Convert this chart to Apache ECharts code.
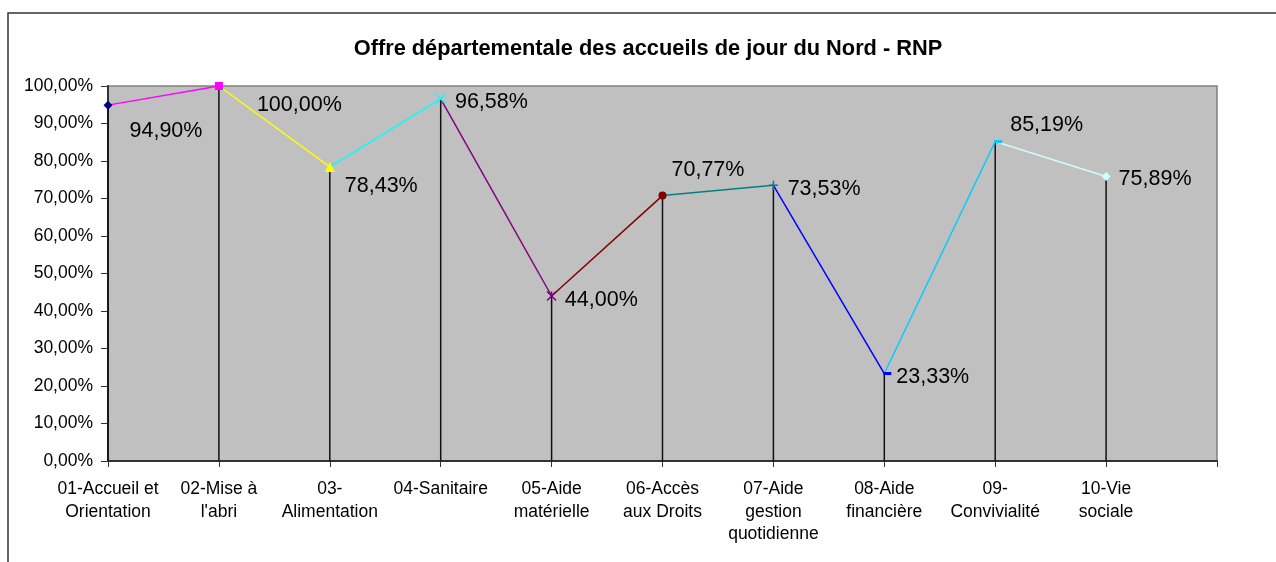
<!DOCTYPE html>
<html>
<head>
<meta charset="utf-8">
<script src="https://cdn.jsdelivr.net/npm/echarts@6/dist/echarts.min.js"></script>
<style>
html,body{margin:0;padding:0;background:#fff;}
#chart{width:1276px;height:562px;}
</style>
</head>
<body>
<div id="chart"></div>
<script>
const title = "Offre départementale des accueils de jour du Nord - RNP";
const categories = ["01-Accueil et\nOrientation", "02-Mise à\nl'abri", "03-\nAlimentation", "04-Sanitaire", "05-Aide\nmatérielle", "06-Accès\naux Droits", "07-Aide\ngestion\nquotidienne", "08-Aide\nfinancière", "09-\nConvivialité", "10-Vie\nsociale", ""];
const values = [94.90, 100.00, 78.43, 96.58, 44.00, 70.77, 73.53, 23.33, 85.19, 75.89];
const pointColors = ["#000080", "#FF00FF", "#FFFF00", "#00FFFF", "#800080", "#800000", "#008080", "#0000FF", "#00CCFF", "#CCFFFF"];
const yTicks = [0, 10, 20, 30, 40, 50, 60, 70, 80, 90, 100];

const fmt = v => v.toFixed(2).replace('.', ',') + '%';

const symbols = [
  {symbol: 'diamond', size: 9},
  {symbol: 'rect', size: 8},
  {symbol: 'triangle', size: 10},
  {symbol: 'path://M0,0L10,10M10,0L0,10', size: 9, stroke: true},
  {symbol: 'path://M0,0L10,10M10,0L0,10M5,0L5,4', size: 9, stroke: true},
  {symbol: 'circle', size: 8},
  {symbol: 'path://M5,0L5,10M0,5L10,5', size: 9, stroke: true},
  {symbol: 'rect', size: [8, 3], offset: [3, 0]},
  {symbol: 'rect', size: [8, 3], offset: [3, 0]},
  {symbol: 'diamond', size: 9}
];
const labelOffsets = [[12, 26], [29, 19], [5, 19], [4, 3], [3, 4], [0, -26], [4, 4], [0, 4], [3, -16], [3, 3]];

const segSeries = [];
for (let i = 1; i < values.length; i++) {
  segSeries.push({
    type: 'line',
    data: values.map((v, j) => (j === i - 1 || j === i) ? v : null),
    showSymbol: false,
    connectNulls: false,
    lineStyle: {color: pointColors[i], width: 1.5},
    z: 3,
    silent: true
  });
}

const markerData = values.map((v, i) => {
  const s = symbols[i];
  const d = {
    value: v,
    symbol: s.symbol,
    symbolSize: s.size,
    itemStyle: s.stroke ? {color: pointColors[i], borderColor: pointColors[i], borderWidth: 1.5} : {color: pointColors[i], borderWidth: 0},
    label: {offset: labelOffsets[i]}
  };
  if (s.offset) d.symbolOffset = s.offset;
  return d;
});

const chart = echarts.init(document.getElementById('chart'), null, {renderer: 'canvas'});
chart.setOption({
  animation: false,
  backgroundColor: '#ffffff',
  textStyle: {fontFamily: 'Liberation Sans, Arial, sans-serif'},
  title: {
    text: title,
    left: 643,
    top: 33,
    textAlign: 'center',
    textStyle: {fontSize: 21.8, fontWeight: 'bold', color: '#000', fontFamily: 'Liberation Sans, Arial, sans-serif'}
  },
  graphic: [{
    type: 'rect',
    shape: {x: 8, y: 13, width: 1300, height: 600},
    style: {fill: 'none', stroke: '#333', lineWidth: 1.5},
    silent: true,
    z: -10
  }],
  grid: {
    left: 108, right: 59, top: 86, bottom: 101,
    show: true, backgroundColor: '#C0C0C0', borderColor: '#808080', borderWidth: 1.5
  },
  xAxis: {
    type: 'category',
    data: categories,
    boundaryGap: false,
    axisLine: {lineStyle: {color: '#333', width: 2}},
    axisTick: {show: true, alignWithLabel: true, length: 6, lineStyle: {color: '#333', width: 1}, interval: 0},
    axisLabel: {interval: 0, margin: 17, fontSize: 17.5, lineHeight: 22.5, color: '#000', align: 'center', verticalAlign: 'top'},
    splitLine: {show: false}
  },
  yAxis: {
    type: 'value',
    min: yTicks[0], max: yTicks[yTicks.length - 1], interval: 10,
    axisLine: {show: true, lineStyle: {color: '#333', width: 2}},
    axisTick: {show: true, length: 7, lineStyle: {color: '#333', width: 1}},
    axisLabel: {formatter: fmt, fontSize: 17.5, color: '#000', margin: 15},
    splitLine: {show: false}
  },
  series: [
    {
      type: 'bar',
      data: values,
      barWidth: 1.5,
      itemStyle: {color: '#111'},
      z: 2,
      silent: true
    },
    ...segSeries,
    {
      type: 'line',
      data: markerData,
      lineStyle: {width: 0, opacity: 0},
      showAllSymbol: true,
      z: 5,
      label: {
        show: true,
        position: 'right',
        distance: 5,
        formatter: p => fmt(p.value),
        fontSize: 21.5,
        color: '#000',
        fontFamily: 'Liberation Sans, Arial, sans-serif'
      },
      silent: true
    }
  ]
});
</script>
</body>
</html>
